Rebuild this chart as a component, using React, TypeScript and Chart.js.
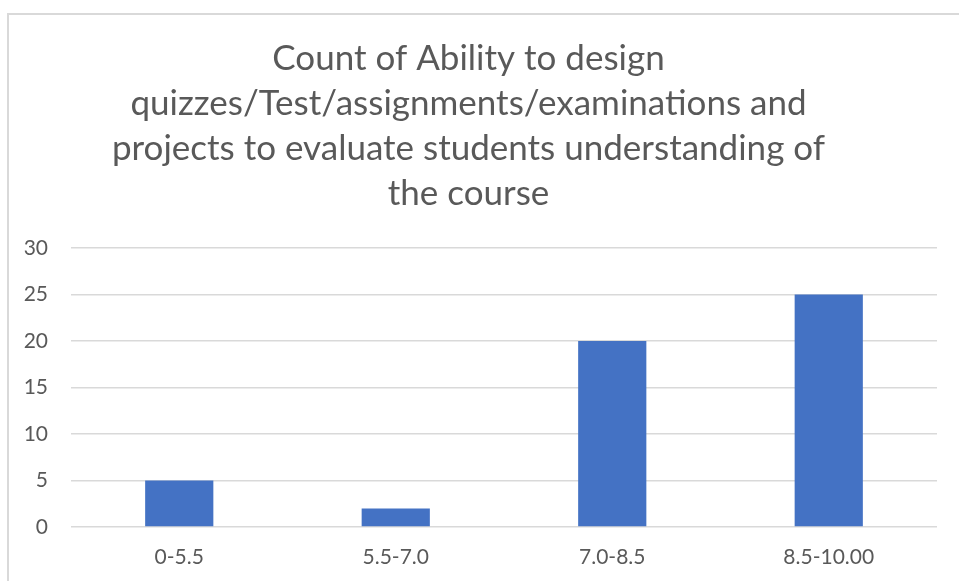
import React, { useEffect, useRef } from "react";
import { Chart, registerables } from "chart.js";

Chart.register(...registerables);

const categories = ["0-5.5", "5.5-7.0", "7.0-8.5", "8.5-10.00"];
const counts = [5, 2, 20, 25];
const titleLines = [
  "Count of Ability to design",
  "quizzes/Test/assignments/examinations and",
  "projects to evaluate students understanding of",
  "the course",
];
const yTicks = [0, 5, 10, 15, 20, 25, 30];

const FONT = "Lato, 'Open Sans', sans-serif";
const TEXT = "#595959";
const GRID = "#d9d9d9";
const BAR = "#4472c4";

export default function App() {
  const ref = useRef<HTMLCanvasElement | null>(null);

  useEffect(() => {
    document.body.style.margin = "0";
    const canvas = ref.current;
    if (!canvas) return;
    const chart = new Chart(canvas, {
      type: "bar",
      data: {
        labels: categories,
        datasets: [
          {
            data: counts,
            backgroundColor: BAR,
            borderWidth: 0,
            barPercentage: 0.63,
            categoryPercentage: 0.5,
          },
        ],
      },
      options: {
        animation: false,
        responsive: false,
        maintainAspectRatio: false,
        layout: { padding: { left: 0, right: 22, top: 36, bottom: 0 } },
        plugins: {
          legend: { display: false },
          tooltip: { enabled: false },
          title: {
            display: true,
            text: titleLines,
            color: TEXT,
            font: { family: FONT, size: 35, weight: "normal", lineHeight: 1.286 },
            padding: { top: 0, bottom: 32 },
          },
        },
        scales: {
          x: {
            grid: { display: false, drawTicks: false },
            border: { display: false },
            ticks: {
              color: TEXT,
              font: { family: FONT, size: 21 },
              padding: 18,
              maxRotation: 0,
            },
            afterFit: (s: any) => {
              s.height = 54;
            },
          },
          y: {
            min: 0,
            max: 30,
            afterBuildTicks: (s: any) => {
              s.ticks = yTicks.map((v) => ({ value: v }));
            },
            grid: { color: GRID, lineWidth: 1.5, drawTicks: false },
            border: { display: false },
            ticks: {
              color: TEXT,
              font: { family: FONT, size: 21 },
              padding: 23,
            },
            afterFit: (s: any) => {
              s.width = 71;
            },
          },
        },
      },
    });
    return () => chart.destroy();
  }, []);

  return (
    <div style={{ position: "relative", width: 959, height: 581, overflow: "hidden", background: "#fff" }}>
      <div
        style={{
          position: "absolute",
          left: 7,
          top: 13,
          width: 960,
          height: 600,
          borderLeft: "2px solid #d9d9d9",
          borderTop: "2px solid #d9d9d9",
          boxSizing: "border-box",
        }}
      />
      <canvas ref={ref} width={959} height={581} style={{ position: "absolute", left: 0, top: 0 }} />
    </div>
  );
}
